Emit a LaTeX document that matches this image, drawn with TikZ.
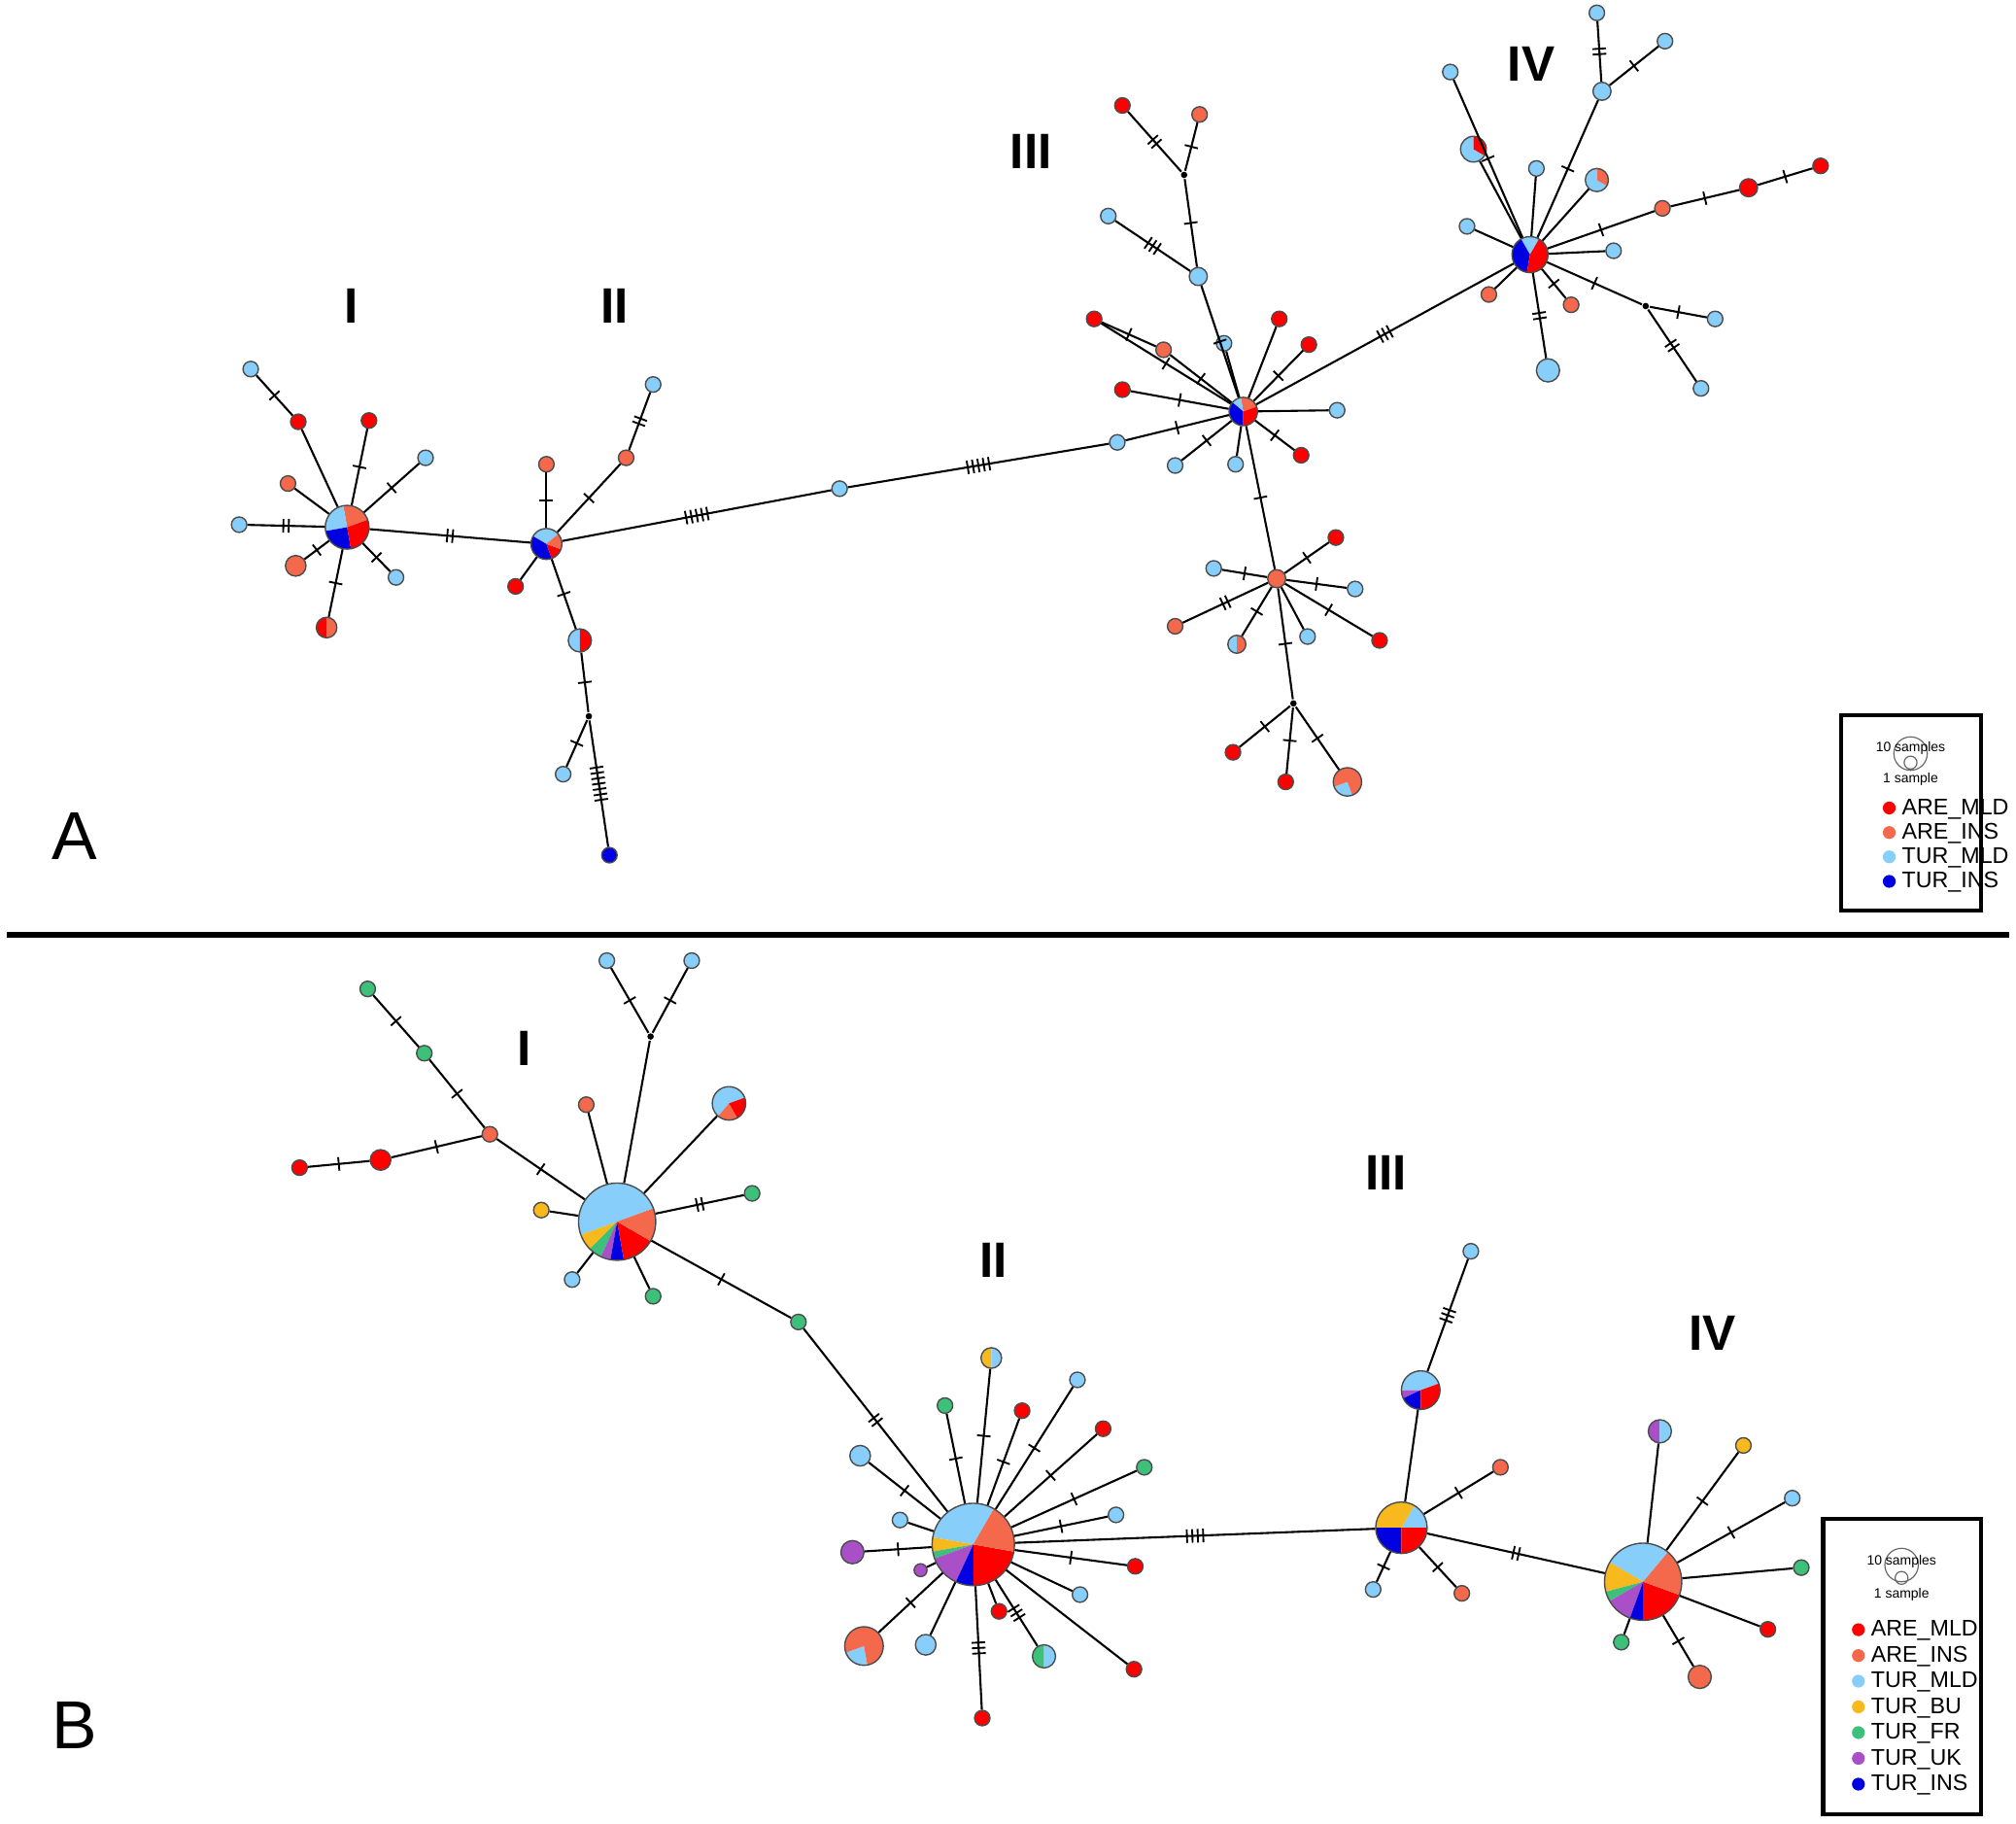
\documentclass[tikz,border=0pt]{standalone}
\usepackage{fontspec}
\setmainfont{Liberation Sans}
\definecolor{amld}{HTML}{FF0000}
\definecolor{ains}{HTML}{F4694B}
\definecolor{tmld}{HTML}{87CEFA}
\definecolor{tins}{HTML}{0000E0}
\definecolor{tbu}{HTML}{F8B91E}
\definecolor{tfr}{HTML}{3CC07A}
\definecolor{tuk}{HTML}{A94FC7}
% haplotype circle: name, position, radius (px), slices start/end/colour
\newcommand\hap[4]{%
  \foreach \s/\e/\c in {#4}{\fill[\c] (#2) -- ++(\s:#3*0.01cm) arc[start angle=\s,end angle=\e,radius=#3*0.01cm] -- cycle;}
  \node[hp,minimum size=#3*0.02cm] (#1) at (#2) {};}
\newcommand\hp[3]{\hap{#1}{#2}{6}{0/360/#3}}
\newcommand\mv[2]{\node[circle,fill=black,inner sep=0,minimum size=0.05cm] (#1) at (#2) {};}
\newcommand\tks[1]{\ifnum#1>0 \foreach\i in {1,...,#1}{\rule{0.4pt}{3pt}\hspace{0.8pt}}\fi}
\tikzset{
  hp/.style={circle,draw=black!70,line width=0.3pt,inner sep=0},
  tk/.style={sloped,inner sep=0,font=\fontsize{3}{3}\selectfont},
  grp/.style={font=\fontsize{11}{11}\selectfont\bfseries},
  pan/.style={font=\fontsize{15}{15}\selectfont},
  leg/.style={font=\fontsize{5}{6}\selectfont,anchor=west}
}
\begin{document}
\begin{tikzpicture}[x=0.01cm,y=-0.01cm,line width=0.45pt]
\useasboundingbox[fill=white] (0,0) rectangle (1568,1418);
% ---------- panel A ----------
\hap{aI}{270,410}{17}{20/100/ains,100/190/tmld,190/280/tins,280/380/amld}
\hp{aIa}{195,287}{tmld} \hp{aIb}{232,328}{amld} \hp{aIc}{287,327}{amld}
\hp{aId}{331,356}{tmld} \hp{aIe}{224,376}{ains} \hp{aIf}{186,408}{tmld}
\hap{aIg}{230,440}{8}{0/360/ains} \hp{aIh}{308,449}{tmld}
\hap{aIi}{254,488}{8}{90/270/amld,270/450/ains}
\foreach \a/\b/\n in {aI/aIb/0,aIb/aIa/1,aI/aIc/1,aI/aId/1,aI/aIe/0,aI/aIf/2,aI/aIg/1,aI/aIh/1,aI/aIi/1}
  \draw (\a) -- node[tk]{\tks{\n}} (\b);
\hap{aII}{425,423}{12}{40/150/tmld,150/290/tins,290/340/amld,340/400/ains}
\hp{aIIa}{425,361}{ains} \hp{aIIb}{487,356}{ains} \hp{aIIc}{508,299}{tmld}
\hp{aIId}{401,456}{amld} \hap{aIIe}{451,498}{9}{90/270/tmld,270/450/amld}
\mv{aIIm}{458,557} \hp{aIIf}{438,602}{tmld} \hp{aIIg}{474,665}{tins}
\hp{aL1}{653,380}{tmld} \hp{aL2}{869,344}{tmld}
\hap{aIII}{967,320}{11}{20/100/ains,100/140/tmld,140/270/tins,270/380/amld}
\foreach \a/\b/\n in {aI/aII/2,aII/aIIa/1,aII/aIIb/1,aIIb/aIIc/2,aII/aIId/0,aII/aIIe/1,aIIe/aIIm/1,aIIm/aIIf/1,aIIm/aIIg/7,aII/aL1/5,aL1/aL2/5,aL2/aIII/1}
  \draw (\a) -- node[tk]{\tks{\n}} (\b);
\hp{aIIIa}{851,248}{amld} \hp{aIIIb}{905,272}{ains} \hp{aIIIc}{873,303}{amld}
\hp{aIIId}{914,362}{tmld} \hp{aIIIe}{961,361}{tmld} \hp{aIIIf}{1012,354}{amld}
\hp{aIIIg}{1040,319}{tmld} \hp{aIIIh}{995,248}{amld} \hp{aIIIi}{1018,268}{amld}
\hp{aIIIj}{952,267}{tmld} \hap{aIIIk}{932,215}{7}{0/360/tmld} \hp{aIIIl}{862,168}{tmld}
\mv{aIIIm}{921,136} \hp{aIIIn}{873,82}{amld} \hp{aIIIo}{933,89}{ains}
\hap{aIIIp}{993,450}{7}{0/360/ains}
\hp{aIIIq}{944,442}{tmld} \hp{aIIIr}{914,487}{ains} \hap{aIIIs}{962,501}{7}{90/270/tmld,270/450/ains}
\hp{aIIIt}{1017,495}{tmld} \hp{aIIIu}{1073,498}{amld} \hp{aIIIv}{1054,458}{tmld}
\hp{aIIIw}{1039,418}{amld} \mv{aIIIx}{1006,547} \hp{aIIIy}{959,585}{amld}
\hp{aIIIz}{1000,608}{amld} \hap{aIIIzz}{1048,608}{11}{200/290/tmld,290/560/ains}
\foreach \a/\b/\n in {aIII/aIIIa/1,aIII/aIIIb/1,aIIIb/aIIIa/1,aIII/aIIIc/1,aIII/aIIId/1,aIII/aIIIe/0,aIII/aIIIf/1,aIII/aIIIg/0,aIII/aIIIh/0,aIII/aIIIi/1,aIII/aIIIj/0,aIII/aIIIk/1,aIIIk/aIIIl/3,aIIIk/aIIIm/1,aIIIm/aIIIn/2,aIIIm/aIIIo/1,aIII/aIIIp/1,aIIIp/aIIIq/1,aIIIp/aIIIr/2,aIIIp/aIIIs/1,aIIIp/aIIIt/0,aIIIp/aIIIu/1,aIIIp/aIIIv/1,aIIIp/aIIIw/1,aIIIp/aIIIx/1,aIIIx/aIIIy/1,aIIIx/aIIIz/1,aIIIx/aIIIzz/1}
  \draw (\a) -- node[tk]{\tks{\n}} (\b);
\hap{aIV}{1190,198}{14}{60/120/tmld,120/260/tins,260/420/amld}
\hp{aIVa}{1128,56}{tmld} \hap{aIVb}{1146,116}{10}{90/330/tmld,330/450/amld}
\hp{aIVc}{1195,131}{tmld} \hp{aIVd}{1141,176}{tmld} \hp{aIVe}{1158,229}{ains}
\hp{aIVf}{1222,237}{ains} \hap{aIVg}{1204,288}{9}{0/360/tmld} \hp{aIVh}{1255,195}{tmld}
\hap{aIVi}{1242,140}{9}{90/330/tmld,330/450/ains} \hap{aIVj}{1246,71}{7}{0/360/tmld}
\hp{aIVk}{1242,10}{tmld} \hp{aIVl}{1295,32}{tmld} \hp{aIVm}{1293,162}{ains}
\hap{aIVn}{1360,146}{7}{0/360/amld} \hp{aIVo}{1416,129}{amld} \mv{aIVp}{1280,238}
\hp{aIVq}{1334,248}{tmld} \hp{aIVr}{1323,302}{tmld}
\foreach \a/\b/\n in {aIII/aIV/3,aIV/aIVa/1,aIV/aIVb/0,aIV/aIVc/0,aIV/aIVd/0,aIV/aIVe/0,aIV/aIVf/1,aIV/aIVg/2,aIV/aIVh/0,aIV/aIVi/0,aIV/aIVj/1,aIVj/aIVk/2,aIVj/aIVl/1,aIV/aIVm/1,aIVm/aIVn/1,aIVn/aIVo/1,aIV/aIVp/1,aIVp/aIVq/1,aIVp/aIVr/2}
  \draw (\a) -- node[tk]{\tks{\n}} (\b);
\node[grp] (lAI) at (273,238) {I};
\node[grp] (lAII) at (478,238) {II};
\node[grp] (lAIII) at (802,118) {III};
\node[grp] (lAIV) at (1191,50) {IV};
\node[pan] (pA) at (58,650) {A};
% legend A
\draw[line width=0.9pt] (1432,556) rectangle (1541,708);
\draw[line width=0.25pt,black!60] (1486,586) circle (0.13cm) (1486,593) circle (0.05cm);
\node[font=\fontsize{3}{3}\selectfont] at (1486,582) {10 samples};
\node[font=\fontsize{3}{3}\selectfont] at (1486,606) {1 sample};
\foreach \c/\t [count=\k] in {amld/ARE\_MLD,ains/ARE\_INS,tmld/TUR\_MLD,tins/TUR\_INS}
  \node[leg] at (1452,610+19*\k) {\tikz\fill[\c] (0,0) circle (0.05cm);\ \t};
% separator
\draw[line width=1.4pt] (5,727) -- (1563,727);
% ---------- panel B ----------
\hap{bI}{480,950}{30}{20/200/tmld,200/225/tbu,225/245/tfr,245/260/tuk,260/280/tins,280/330/amld,330/380/ains}
\hp{bIa}{421,941}{tbu} \hp{bIb}{445,995}{tmld} \hp{bIc}{508,1008}{tfr}
\hp{bId}{585,928}{tfr} \hap{bIe}{567,858}{13}{20/230/tmld,230/300/ains,300/380/amld}
\hp{bIf}{456,859}{ains} \mv{bIg}{506,806} \hp{bIh}{472,747}{tmld} \hp{bIi}{538,747}{tmld}
\hp{bIj}{381,882}{ains} \hp{bIk}{330,819}{tfr} \hp{bIl}{286,769}{tfr}
\hap{bIm}{296,902}{8}{0/360/amld} \hp{bIn}{233,908}{amld} \hp{bL}{621,1028}{tfr}
\foreach \a/\b/\n in {bI/bIa/0,bI/bIb/0,bI/bIc/0,bI/bId/2,bI/bIe/0,bI/bIf/0,bI/bIg/0,bIg/bIh/1,bIg/bIi/1,bI/bIj/1,bIj/bIk/1,bIk/bIl/1,bIj/bIm/1,bIm/bIn/1,bI/bL/1}
  \draw (\a) -- node[tk]{\tks{\n}} (\b);
\hap{bII}{757,1201}{32}{60/170/tmld,170/190/tbu,190/200/tfr,200/245/tuk,245/270/tins,270/350/amld,350/420/ains}
\hap{bIIa}{771,1056}{8}{90/270/tbu,270/450/tmld} \hp{bIIb}{735,1093}{tfr}
\hp{bIIc}{795,1097}{amld} \hp{bIId}{838,1073}{tmld} \hp{bIIe}{858,1111}{amld}
\hp{bIIf}{890,1141}{tfr} \hp{bIIg}{868,1178}{tmld} \hp{bIIh}{883,1218}{amld}
\hp{bIIi}{840,1240}{tmld} \hp{bIIj}{882,1298}{amld}
\hap{bIIk}{812,1288}{9}{90/270/tfr,270/450/tmld} \hp{bIIl}{777,1253}{amld}
\hp{bIIm}{764,1336}{amld} \hap{bIIn}{720,1279}{8}{0/360/tmld}
\hap{bIIo}{672,1280}{15}{200/280/tmld,280/560/ains} \hap{bIIp}{716,1221}{5}{0/360/tuk}
\hap{bIIq}{663,1207}{9}{0/360/tuk} \hp{bIIr}{700,1182}{tmld}
\hap{bIIs}{669,1132}{8}{0/360/tmld}
\foreach \a/\b/\n in {bL/bII/2,bII/bIIa/1,bII/bIIb/1,bII/bIIc/1,bII/bIId/1,bII/bIIe/1,bII/bIIf/1,bII/bIIg/1,bII/bIIh/1,bII/bIIi/0,bII/bIIj/0,bII/bIIk/3,bII/bIIl/0,bII/bIIm/3,bII/bIIn/0,bII/bIIo/1,bII/bIIp/0,bII/bIIq/1,bII/bIIr/0,bII/bIIs/1}
  \draw (\a) -- node[tk]{\tks{\n}} (\b);
\hap{bIII}{1090,1188}{20}{0/60/tmld,60/180/tbu,180/270/tins,270/360/amld}
\hap{bIIIa}{1105,1081}{15}{20/180/tmld,180/205/tuk,205/270/tins,270/380/amld}
\hp{bIIIb}{1144,973}{tmld} \hp{bIIIc}{1167,1141}{ains} \hp{bIIId}{1137,1239}{ains}
\hp{bIIIe}{1068,1236}{tmld}
\hap{bIV}{1278,1230}{30}{50/150/tmld,150/195/tbu,195/210/tfr,210/250/tuk,250/270/tins,270/340/amld,340/410/ains}
\hap{bIVa}{1291,1113}{9}{90/270/tuk,270/450/tmld} \hp{bIVb}{1356,1124}{tbu}
\hp{bIVc}{1394,1165}{tmld} \hp{bIVd}{1401,1219}{tfr} \hp{bIVe}{1375,1267}{amld}
\hap{bIVf}{1322,1304}{9}{0/360/ains} \hp{bIVg}{1261,1277}{tfr}
\foreach \a/\b/\n in {bII/bIII/4,bIII/bIIIa/0,bIIIa/bIIIb/3,bIII/bIIIc/1,bIII/bIIId/1,bIII/bIIIe/1,bIII/bIV/2,bIV/bIVa/0,bIV/bIVb/1,bIV/bIVc/1,bIV/bIVd/0,bIV/bIVe/0,bIV/bIVf/1,bIV/bIVg/0}
  \draw (\a) -- node[tk]{\tks{\n}} (\b);
\node[grp] (lBI) at (408,815) {I};
\node[grp] (lBII) at (773,980) {II};
\node[grp] (lBIII) at (1078,912) {III};
\node[grp] (lBIV) at (1332,1037) {IV};
\node[pan] (pB) at (58,1342) {B};
% legend B
\draw[line width=0.9pt] (1418,1181) rectangle (1541,1411);
\draw[line width=0.25pt,black!60] (1479,1217) circle (0.13cm) (1479,1227) circle (0.05cm);
\node[font=\fontsize{3}{3}\selectfont] at (1479,1214) {10 samples};
\node[font=\fontsize{3}{3}\selectfont] at (1479,1240) {1 sample};
\foreach \c/\t [count=\k] in {amld/ARE\_MLD,ains/ARE\_INS,tmld/TUR\_MLD,tbu/TUR\_BU,tfr/TUR\_FR,tuk/TUR\_UK,tins/TUR\_INS}
  \node[leg] at (1428,1248+20*\k) {\tikz\fill[\c] (0,0) circle (0.05cm);\ \t};
\end{tikzpicture}
\end{document}
